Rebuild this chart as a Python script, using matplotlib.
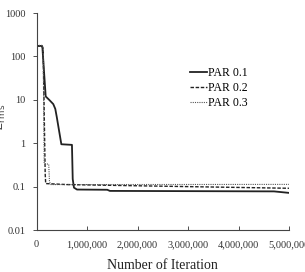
import numpy as np
import matplotlib.pyplot as plt
from matplotlib.ticker import FuncFormatter, FixedLocator, NullLocator

plt.rcParams['font.family'] = ['Liberation Serif', 'DejaVu Serif']

# PAR 0.1 (solid)
it1 = [0, 100000, 115000, 180000, 250000, 330000, 370000, 400000, 420000, 490000,
       700000, 715000, 740000, 800000, 1400000, 1450000, 4700000, 5000000]
e1 = [175, 175, 160, 12, 10, 8, 6.2, 4.0, 2.9, 0.95,
      0.92, 0.15, 0.095, 0.086, 0.085, 0.080, 0.078, 0.072]

# PAR 0.2 (dashed)
it2 = [0, 110000, 130000, 170000, 180000, 600000, 2000000, 5000000]
e2 = [175, 175, 150, 0.2, 0.118, 0.112, 0.105, 0.092]

# PAR 0.3 (dotted)
it3 = [0, 110000, 130000, 150000, 240000, 255000, 280000, 1000000, 5000000]
e3 = [180, 180, 150, 0.34, 0.33, 0.13, 0.112, 0.112, 0.113]

fig = plt.figure(figsize=(3.05, 2.72), dpi=100)
ax = fig.add_axes([0.12, 0.154, 0.828, 0.798])

ax.plot(it1, e1, color='#222222', lw=1.3, ls='-', label='PAR 0.1')
ax.plot(it2, e2, color='#222222', lw=1.0, ls=(0, (2.5, 1.2)), label='PAR 0.2')
ax.plot(it3, e3, color='#555555', lw=0.8, ls=(0, (1, 1)), label='PAR 0.3')

ax.set_yscale('log')
ax.set_ylim(0.01, 1000)
ax.set_xlim(0, 5000000)
ax.yaxis.set_major_locator(FixedLocator([0.01, 0.1, 1, 10, 100, 1000]))
ax.yaxis.set_minor_locator(NullLocator())
ax.yaxis.set_major_formatter(FuncFormatter(lambda v, p: f"{v:g}"))
ax.xaxis.set_major_locator(FixedLocator([0, 1e6, 2e6, 3e6, 4e6, 5e6]))
ax.xaxis.set_major_formatter(FuncFormatter(lambda v, p: f"{int(v):,}"))

for s in ['top', 'right']:
    ax.spines[s].set_visible(False)
for s in ['left', 'bottom']:
    ax.spines[s].set_color('#444444')
    ax.spines[s].set_linewidth(0.8)
ax.tick_params(axis='x', direction='in', length=3, width=0.6, labelsize=7.5,
               colors='#333333', pad=7)
ax.tick_params(axis='y', direction='out', length=3, width=0.6, labelsize=7.5,
               colors='#333333', pad=5)

ax.set_xlabel('Number of Iteration', fontsize=10, color='#222222', labelpad=7)
fig.text(0.0, 0.57, r'$E_{\mathrm{rms}}$', rotation=90, fontsize=9,
         color='#444444', ha='center', va='center')

ax.legend(loc='upper left', bbox_to_anchor=(0.575, 0.79), frameon=False,
          fontsize=8.5, handlelength=1.4, handletextpad=0.1, labelspacing=0.25,
          borderpad=0.2)

plt.savefig('out.png', dpi=100)
